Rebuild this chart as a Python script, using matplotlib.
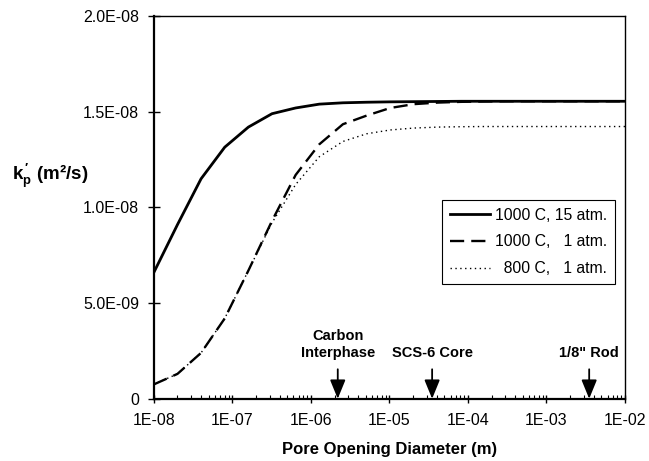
import matplotlib
matplotlib.use("Agg")
import matplotlib.pyplot as plt
from matplotlib.ticker import FixedLocator, LogLocator, NullFormatter

plt.rcParams['font.family'] = ['Liberation Sans', 'DejaVu Sans']
plt.rcParams['mathtext.fontset'] = 'custom'
plt.rcParams['mathtext.rm'] = 'Liberation Sans'
plt.rcParams['mathtext.bf'] = 'Liberation Sans:bold'

# Pore opening diameter (m)
diameter = [1e-8, 2e-8, 4e-8, 8e-8, 1.6e-7, 3.2e-7, 6.4e-7, 1.28e-6, 2.56e-6,
            5.12e-6, 1.024e-5, 2.048e-5, 4.096e-5, 8.192e-5, 1.638e-4, 3.277e-4,
            6.554e-4, 1.311e-3, 2.621e-3, 5.243e-3, 1e-2]

# k_p' (m^2/s)
k_1000_15 = [6.6e-9, 9.1e-9, 11.5e-9, 13.15e-9, 14.2e-9, 14.9e-9, 15.2e-9, 15.4e-9,
             15.47e-9, 15.5e-9, 15.52e-9, 15.53e-9, 15.54e-9, 15.55e-9, 15.55e-9,
             15.55e-9, 15.55e-9, 15.55e-9, 15.55e-9, 15.55e-9, 15.55e-9]
k_1000_1 = [0.75e-9, 1.3e-9, 2.4e-9, 4.2e-9, 6.7e-9, 9.3e-9, 11.7e-9, 13.3e-9,
            14.35e-9, 14.8e-9, 15.2e-9, 15.4e-9, 15.48e-9, 15.52e-9, 15.54e-9,
            15.55e-9, 15.55e-9, 15.55e-9, 15.55e-9, 15.55e-9, 15.55e-9]
k_800_1 = [0.75e-9, 1.3e-9, 2.4e-9, 4.2e-9, 6.7e-9, 9.2e-9, 11.2e-9, 12.65e-9,
           13.45e-9, 13.85e-9, 14.05e-9, 14.15e-9, 14.2e-9, 14.22e-9, 14.23e-9,
           14.23e-9, 14.23e-9, 14.23e-9, 14.23e-9, 14.23e-9, 14.23e-9]

labels = ["1000 C, 15 atm.", "1000 C,   1 atm.", "  800 C,   1 atm."]

y_ticks = [0, 5e-9, 1e-8, 1.5e-8, 2e-8]
y_ticklabels = ["0", "5.0E-09", "1.0E-08", "1.5E-08", "2.0E-08"]
x_ticks = [1e-8, 1e-7, 1e-6, 1e-5, 1e-4, 1e-3, 1e-2]
x_ticklabels = ["1E-08", "1E-07", "1E-06", "1E-05", "1E-04", "1E-03", "1E-02"]

marker_names = ["Carbon\nInterphase", "SCS-6 Core", "1/8\" Rod"]
marker_pos = [2.2e-6, 3.5e-5, 3.5e-3]

fig = plt.figure(figsize=(6.49, 4.61), dpi=100)
ax = fig.add_axes([0.237, 0.135, 0.726, 0.83])

ax.plot(diameter, k_1000_15, color='black', lw=2.0, ls='-', label=labels[0])
ax.plot(diameter, k_1000_1, color='black', lw=1.7, ls=(0, (6, 3)), label=labels[1])
ax.plot(diameter, k_800_1, color='black', lw=1.0, ls=(0, (1, 2.5)), label=labels[2])

ax.set_xscale('log')
ax.set_xlim(1e-8, 1e-2)
ax.set_ylim(0, 2e-8)

ax.yaxis.set_major_locator(FixedLocator(y_ticks))
ax.set_yticklabels(y_ticklabels)
ax.xaxis.set_major_locator(FixedLocator(x_ticks))
ax.set_xticklabels(x_ticklabels)
ax.xaxis.set_minor_locator(LogLocator(base=10, subs=range(2, 10)))
ax.xaxis.set_minor_formatter(NullFormatter())

ax.tick_params(axis='y', which='major', direction='inout', length=9, width=1,
               labelsize=11.5, pad=6)
ax.tick_params(axis='x', which='major', direction='inout', length=6, width=1,
               labelsize=11.5, pad=7)
ax.tick_params(axis='x', which='minor', direction='in', length=3, width=0.8)

for s in ax.spines.values():
    s.set_linewidth(1.0)
ax.spines['left'].set_linewidth(1.6)
ax.spines['bottom'].set_linewidth(1.6)

ax.set_xlabel("Pore Opening Diameter (m)", fontsize=12, fontweight='bold', labelpad=10)
ax.set_ylabel(r"$\mathbf{k_p^{\,\prime}}$ (m²/s)", fontsize=13.5, fontweight='bold',
              rotation=0, va='center', ha='center')
ax.yaxis.set_label_coords(-0.219, 0.583)

for name, xp in zip(marker_names, marker_pos):
    ax.annotate(name, xy=(xp, 0), xytext=(xp, 2.05e-9),
                ha='center', va='bottom', fontsize=10.5, fontweight='bold',
                linespacing=1.25,
                arrowprops=dict(arrowstyle='-|>,head_width=0.45,head_length=1.1',
                                color='black', lw=1.3, shrinkA=5, shrinkB=0))

leg = ax.legend(loc='upper left', bbox_to_anchor=(0.611, 0.52), fontsize=11.3,
                frameon=True, fancybox=False, edgecolor='black', framealpha=1,
                handlelength=2.6, handletextpad=0.3, borderpad=0.5,
                labelspacing=0.75, borderaxespad=0)
leg.get_frame().set_linewidth(0.8)

fig.savefig("out.png", dpi=100)
